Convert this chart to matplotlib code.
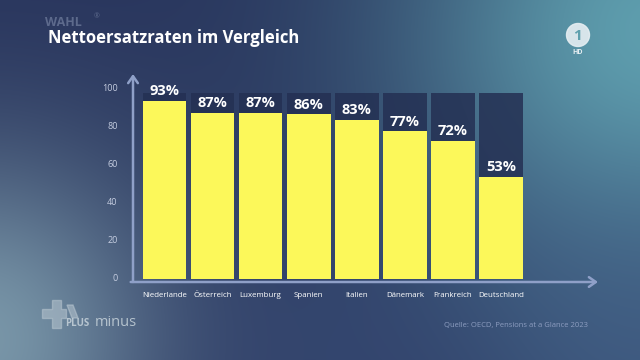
import numpy as np
import matplotlib
matplotlib.use("Agg")
import matplotlib.pyplot as plt
from matplotlib.patches import Circle, Polygon

# data
countries = ["Niederlande", "Österreich", "Luxemburg", "Spanien",
             "Italien", "Dänemark", "Frankreich", "Deutschland"]
rates = [93, 87, 87, 86, 83, 77, 72, 53]
y_ticks = [0, 20, 40, 60, 80, 100]
title = "Nettoersatzraten im Vergleich"
source = "Quelle: OECD, Pensions at a Glance 2023"

plt.rcParams['font.family'] = ['Open Sans', 'DejaVu Sans']

W, H = 640, 360
fig = plt.figure(figsize=(6.4, 3.6), dpi=100)

# background gradient (navy with teal top right, greyish bottom left)
yy, xx = np.mgrid[0:H, 0:W]
img = np.zeros((H, W, 3))
img[:] = np.array([40, 52, 92]) / 255.0


def blob(cx, cy, r, col, strength=1.0):
    w = strength * np.exp(-((xx - cx) ** 2 + (yy - cy) ** 2) / r ** 2)
    return w[..., None], np.array(col) / 255.0


for cx, cy, r, col, s in [(660, 40, 260, (95, 160, 175), 1.0),
                          (-20, 340, 190, (125, 155, 172), 0.95),
                          (640, 360, 200, (70, 100, 140), 0.6),
                          (330, 380, 160, (60, 80, 125), 0.4)]:
    w, c = blob(cx, cy, r, col, s)
    img = img * (1 - w) + c * w

bg = fig.add_axes([0, 0, 1, 1])
bg.imshow(img, extent=(0, W, H, 0), aspect='auto')
bg.set_xlim(0, W)
bg.set_ylim(H, 0)
bg.axis('off')

# logos / decorations in pixel coordinates
bg.text(45, 23, "WAHL", color="#5d6a8c", fontsize=9, fontweight='bold',
        va='center', ha='left')
bg.text(94, 17, "®", color="#5d6a8c", fontsize=5, va='center')
bg.text(48, 38, title, color="white", fontsize=12, fontweight='bold',
        va='center', ha='left')

bg.add_patch(Circle((578, 35), 11.5, color="#e6eef2", alpha=0.9))
bg.text(578, 35.5, "1", color="#5fa0ae", fontsize=11, fontweight='bold',
        ha='center', va='center')
bg.text(578, 53, "HD", color="#e6eef2", fontsize=5, fontweight='bold',
        ha='center', va='center')

# plusminus logo: a plus with a slanted arm
cross = [(52, 300), (61, 300), (61, 309), (66, 309), (66, 318), (61, 318),
         (61, 328), (52, 328), (52, 318), (42, 318), (42, 309), (52, 309)]
arm = [(67, 305), (73, 305), (78, 318), (72, 318)]
for shape in (cross, arm):
    bg.add_patch(Polygon(shape, closed=True, color="#b8c6d0", alpha=0.55))
bg.text(65, 324, "PLUS", color="#c6d2da", fontsize=7, fontweight='bold',
        va='center', ha='left', alpha=0.85)
bg.text(95, 322, "minus", color="#c6d2da", fontsize=10.5,
        va='center', ha='left', alpha=0.85)
bg.text(588, 326, source, color="#8d9dc0", fontsize=5.5,
        ha='right', va='center')

# chart axes
ax = fig.add_axes([133 / W, 78 / H, (598 - 133) / W, (282 - 74) / H])
ax.patch.set_alpha(0)
x = np.arange(len(countries))
ax.set_xlim(-0.655, 9.02)
ax.set_ylim(-2.6, 107.4)

ax.bar(x, [98.5] * len(x), bottom=-1, width=0.91, color="#243053",
       alpha=0.85, zorder=1)
ax.bar(x, [r + 1 for r in rates], bottom=-1, width=0.91, color="#fcf85a",
       zorder=2)
for xi, v in zip(x, rates):
    ax.text(xi, v + 1.5, f"{v}%", color="white", fontsize=10.5,
            fontweight='bold', ha='center', va='bottom', zorder=3)

for s in ax.spines.values():
    s.set_visible(False)
axis_col = "#8fa0c8"
ax.annotate("", xy=(1, 0), xytext=(-0.005, 0), xycoords='axes fraction',
            arrowprops=dict(arrowstyle="->,head_length=0.5,head_width=0.35",
                            color=axis_col, lw=1.8, shrinkA=0, shrinkB=0))
ax.annotate("", xy=(0, 1), xytext=(0, 0), xycoords='axes fraction',
            arrowprops=dict(arrowstyle="->,head_length=0.5,head_width=0.35",
                            color=axis_col, lw=1.8, shrinkA=0, shrinkB=0))

ax.set_yticks(y_ticks)
ax.set_yticklabels([str(t) for t in y_ticks], color="#c5cde0", fontsize=6.5)
ax.set_xticks(x)
ax.set_xticklabels(countries, color="white", fontsize=5.7)
ax.tick_params(axis='y', length=0, pad=11)
ax.tick_params(axis='x', length=0, pad=7)

fig.savefig("out.png", dpi=100)
